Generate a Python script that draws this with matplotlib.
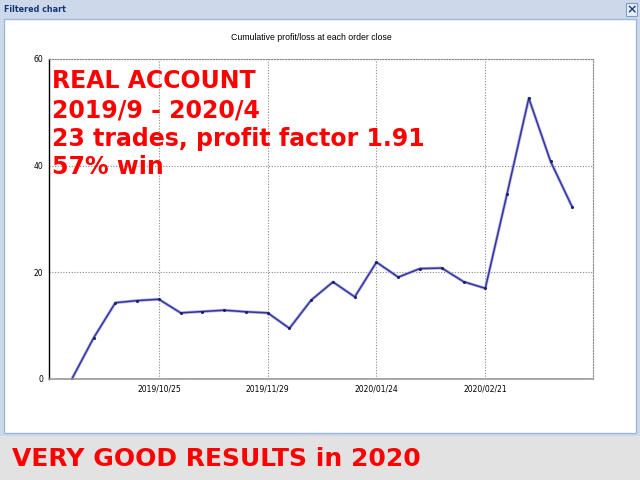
import matplotlib
matplotlib.use("Agg")
import matplotlib.pyplot as plt
from matplotlib.patches import Rectangle

# cumulative profit/loss after each closed order (index 0 = start)
trade_idx = list(range(24))
cum_pl = [0.0, 7.7, 14.3, 14.7, 14.95, 12.4, 12.65, 12.9, 12.6, 12.4,
          9.5, 14.8, 18.2, 15.4, 21.9, 19.1, 20.7, 20.8, 18.25, 17.0,
          34.7, 52.65, 40.8, 32.2]
date_ticks = [4, 9, 14, 19]
date_labels = ['2019/10/25', '2019/11/29', '2020/01/24', '2020/02/21']
y_ticks = [0, 20, 40, 60]

info_lines = ['REAL ACCOUNT', '2019/9 - 2020/4',
              '23 trades, profit factor 1.91', '57% win']
footer = 'VERY GOOD RESULTS in 2020'

W, H = 640, 480
fig = plt.figure(figsize=(6.4, 4.8), dpi=100)
fig.patch.set_facecolor('#e2e2e2')


def px_rect(x0, y0, x1, y1, **kw):
    # rectangle given in pixel coords from top-left
    r = Rectangle((x0 / W, 1 - y1 / H), (x1 - x0) / W, (y1 - y0) / H,
                  transform=fig.transFigure, zorder=-10, **kw)
    fig.patches.append(r)


# window frame
px_rect(0, 0, 640, 436, facecolor='#cdd9ea', edgecolor='none')
px_rect(4, 19, 636, 433, facecolor='white', edgecolor='#9db8dc', lw=1)
px_rect(626, 3, 637, 16, facecolor='#e8eef7', edgecolor='#7f9cc8', lw=0.8)
fig.text(631.5 / W, 1 - 9.5 / H, '×', ha='center', va='center',
         fontsize=9, fontweight='bold', color='#1f3f7a')
fig.text(4 / W, 1 - 10 / H, 'Filtered chart', ha='left', va='center',
         fontsize=5.8, fontweight='bold', color='#15357a', family='DejaVu Sans')

ax = fig.add_axes([49 / W, 1 - 379 / H, (593 - 49) / W, (379 - 59) / H])
ax.set_facecolor('white')
ax.plot(trade_idx, cum_pl, color='#b4b4f0', lw=2.2, solid_capstyle='round')
ax.plot(trade_idx, cum_pl, color='#35359a', lw=1.1, marker='o', ms=1.2,
        mfc='#202060', mec='#202060')
ax.set_xlim(-1.05, 23.95)
ax.set_ylim(0, 60)
ax.set_xticks(date_ticks)
ax.set_xticklabels(date_labels)
ax.set_yticks(y_ticks)
ax.tick_params(length=0, labelsize=5.5, pad=4, colors='black')
ax.grid(True, ls=(0, (1, 1.5)), color='#888888', lw=0.8)
for s in ['top', 'right']:
    ax.spines[s].set_linestyle((0, (1, 1.5)))
    ax.spines[s].set_color('#888888')
    ax.spines[s].set_linewidth(0.8)
ax.spines['left'].set_color('black')
ax.spines['left'].set_linewidth(1)
ax.spines['bottom'].set_color('#999999')
ax.spines['bottom'].set_linewidth(1.2)

fig.text(311 / W, 1 - 37 / H, 'Cumulative profit/loss at each order close',
         ha='center', va='center', fontsize=6.3, family='Liberation Sans')

baselines = [88, 117, 146, 174]
for line, yb in zip(info_lines, baselines):
    fig.text(52 / W, 1 - yb / H, line, ha='left', va='baseline',
             fontsize=17, fontweight='bold', color='#ff0000',
             family='DejaVu Sans')

fig.text(12 / W, 1 - 466 / H, footer, ha='left', va='baseline',
         fontsize=18, fontweight='bold', color='#ff0000', family='DejaVu Sans')

fig.savefig('out.png', dpi=100)
